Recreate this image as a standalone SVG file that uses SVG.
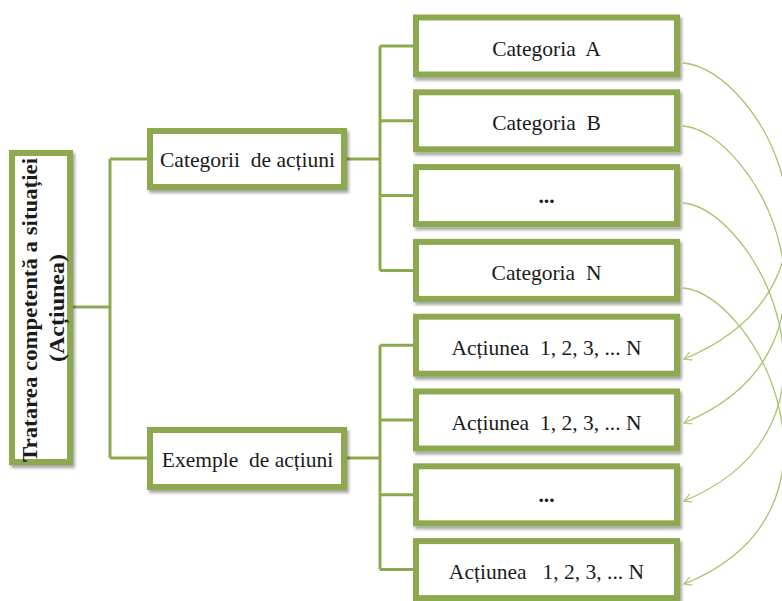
<svg xmlns="http://www.w3.org/2000/svg" width="782" height="601" viewBox="0 0 782 601">
<defs>
<style>
.box{fill:#ffffff;stroke:#8DA94F;stroke-width:6;filter:url(#sh)}
.t{font-family:"Liberation Serif","Times New Roman",serif;font-size:21.5px;fill:#1a1a1a;text-anchor:middle;white-space:pre}
.b{font-weight:bold}
.conn{fill:none;stroke:#8DA94F;stroke-width:3}
.arc{fill:none;stroke:#A9C46E;stroke-width:1.3;marker-end:url(#ah)}
</style>
<filter id="sh" x="-10%" y="-10%" width="130%" height="140%">
<feDropShadow dx="2" dy="3" stdDeviation="1.6" flood-color="#000" flood-opacity="0.35"/>
</filter>
<marker id="ah" viewBox="0 0 10 10" refX="9" refY="5" markerWidth="9" markerHeight="9" markerUnits="userSpaceOnUse" orient="auto">
<path d="M0,0 L9,5 L0,10" fill="none" stroke="#A9C46E" stroke-width="1.3"/>
</marker>
</defs>
<rect width="782" height="601" fill="#ffffff"/>

<g id="connectors">
<path class="conn" d="M73,307 H110 M110,159 V458 M110,159 H147 M110,458 H147"/>
<path class="conn" d="M347,159 H380 M380,46 V270.4 M380,46 H413 M380,120.8 H413 M380,195.6 H413 M380,270.4 H413"/>
<path class="conn" d="M347,458 H380 M380,345.2 V569.6 M380,345.2 H413 M380,420 H413 M380,494.8 H413 M380,569.6 H413"/>
<path class="arc" d="M683,63 C760,68 875,280 684,359"/>
<path class="arc" d="M683,126 C755,131 870,345 684,423"/>
<path class="arc" d="M683,203 C755,208 868,425 684,501"/>
<path class="arc" d="M683,288 C755,293 868,510 684,584"/>
</g>

<g id="root">
<rect class="box" x="12" y="153" width="58" height="309"/>
<text class="t b" transform="translate(37,310) rotate(-90)" textLength="304" lengthAdjust="spacingAndGlyphs">Tratarea competentă a situației</text>
<text class="t b" transform="translate(64,308) rotate(-90)" textLength="108" lengthAdjust="spacingAndGlyphs">(Acțiunea)</text>
</g>

<g id="categorii">
<rect class="box" x="150" y="131" width="194" height="56"/>
<text class="t" x="247.5" y="167">Categorii  de acțiuni</text>
</g>
<g id="exemple">
<rect class="box" x="150" y="430" width="194" height="57"/>
<text class="t" x="247.5" y="467">Exemple  de acțiuni</text>
</g>

<g id="catA">
<rect class="box" x="416" y="17.5" width="261" height="57"/>
<text class="t" x="546.5" y="55.5">Categoria  A</text>
</g>
<g id="catB">
<rect class="box" x="416" y="92.3" width="261" height="57"/>
<text class="t" x="546.5" y="130.3">Categoria  B</text>
</g>
<g id="catDots">
<rect class="box" x="416" y="167.1" width="261" height="57"/>
<text class="t b" x="546.5" y="203">...</text>
</g>
<g id="catN">
<rect class="box" x="416" y="241.9" width="261" height="57"/>
<text class="t" x="546.5" y="279.9">Categoria  N</text>
</g>

<g id="act1">
<rect class="box" x="416" y="316.7" width="261" height="57"/>
<text class="t" x="546.5" y="354.7">Acțiunea  1, 2, 3, ... N</text>
</g>
<g id="act2">
<rect class="box" x="416" y="391.5" width="261" height="57"/>
<text class="t" x="546.5" y="429.5">Acțiunea  1, 2, 3, ... N</text>
</g>
<g id="actDots">
<rect class="box" x="416" y="466.3" width="261" height="57"/>
<text class="t b" x="546.5" y="502">...</text>
</g>
<g id="actN">
<rect class="box" x="416" y="541.1" width="261" height="57"/>
<text class="t" x="546.5" y="579.1">Acțiunea   1, 2, 3, ... N</text>
</g>
</svg>
